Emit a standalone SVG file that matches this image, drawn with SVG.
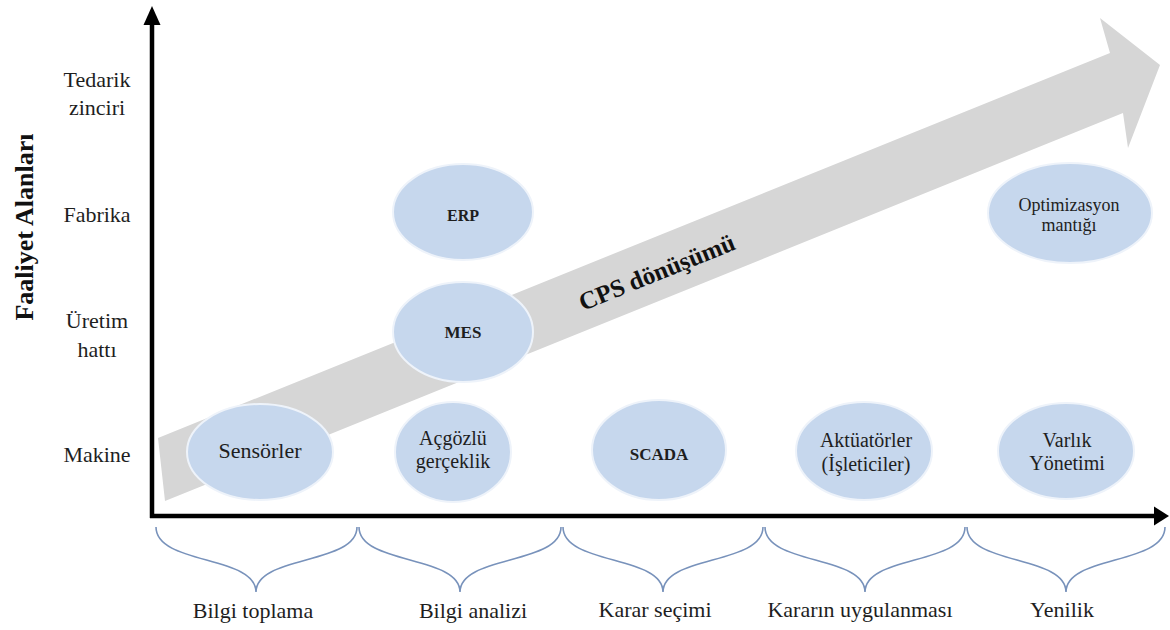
<svg xmlns="http://www.w3.org/2000/svg" width="1170" height="630" viewBox="0 0 1170 630">
  <defs>
    <style>
      .lbl { font-size: 22px; fill: #1e1e1e; text-anchor: middle; }
      .nd { font-size: 20px; fill: #1e1e1e; text-anchor: middle; }
      .nb { font-size: 17px; font-weight: bold; fill: #1e1e1e; text-anchor: middle; }
      .bubble { fill: #c6d7ed; stroke: #eef3fa; stroke-width: 2; }
      .brace { fill: none; stroke: #7892bb; stroke-width: 1.6; }
      .axis { stroke: #000; stroke-width: 4.5; fill: none; }
    </style>
  </defs>

  <rect width="1170" height="630" fill="#ffffff"/>

  <!-- transformation band -->
  <g id="cps-arrow">
    <polygon points="158,438 1110,53 1100,18 1160,65 1128,148 1123,113 165,501" fill="#d6d6d6"/>
    <text x="660" y="280" transform="rotate(-22 660 280)" font-family="Liberation Serif, Times New Roman, serif" font-size="25" font-weight="bold" fill="#111" text-anchor="middle">CPS dönüşümü</text>
  </g>

  <!-- axes -->
  <g id="axes">
    <line class="axis" x1="152" y1="22" x2="152" y2="518"/>
    <polygon points="152,6 143.5,25 160.5,25" fill="#000"/>
    <line class="axis" x1="150" y1="516" x2="1156" y2="516"/>
    <polygon points="1169,516 1154,506.5 1154,525.5" fill="#000"/>
  </g>

  <!-- vertical axis title and levels -->
  <g id="y-labels">
    <text x="33" y="227" transform="rotate(-90 33 227)" font-family="Liberation Serif, Times New Roman, serif" font-size="26" font-weight="bold" fill="#111" text-anchor="middle">Faaliyet Alanları</text>
    <text class="lbl" font-family="Liberation Serif, Times New Roman, serif" x="97" y="87">Tedarik</text>
    <text class="lbl" font-family="Liberation Serif, Times New Roman, serif" x="97" y="115">zinciri</text>
    <text class="lbl" font-family="Liberation Serif, Times New Roman, serif" x="97" y="222">Fabrika</text>
    <text class="lbl" font-family="Liberation Serif, Times New Roman, serif" x="97" y="328">Üretim</text>
    <text class="lbl" font-family="Liberation Serif, Times New Roman, serif" x="97" y="357">hattı</text>
    <text class="lbl" font-family="Liberation Serif, Times New Roman, serif" x="97" y="462">Makine</text>
  </g>

  <!-- nodes -->
  <g id="node-erp">
    <ellipse class="bubble" cx="463" cy="212" rx="70" ry="48"/>
    <text class="nb" font-family="Liberation Serif, Times New Roman, serif" x="463" y="221" style="font-size:16px">ERP</text>
  </g>
  <g id="node-mes">
    <ellipse class="bubble" cx="463" cy="332" rx="70" ry="50"/>
    <text class="nb" font-family="Liberation Serif, Times New Roman, serif" x="463" y="338">MES</text>
  </g>
  <g id="node-optimizasyon">
    <ellipse class="bubble" cx="1070" cy="213" rx="82" ry="50"/>
    <text class="nd" font-family="Liberation Serif, Times New Roman, serif" x="1069" y="211" style="font-size:18px">Optimizasyon</text>
    <text class="nd" font-family="Liberation Serif, Times New Roman, serif" x="1069" y="231" style="font-size:18px">mantığı</text>
  </g>
  <g id="node-sensorler">
    <ellipse class="bubble" cx="260" cy="452" rx="73" ry="48"/>
    <text class="nd" font-family="Liberation Serif, Times New Roman, serif" x="260" y="458" style="font-size:22px">Sensörler</text>
  </g>
  <g id="node-acgozlu">
    <ellipse class="bubble" cx="453" cy="452" rx="58" ry="50"/>
    <text class="nd" font-family="Liberation Serif, Times New Roman, serif" x="453" y="445">Açgözlü</text>
    <text class="nd" font-family="Liberation Serif, Times New Roman, serif" x="453" y="468">gerçeklik</text>
  </g>
  <g id="node-scada">
    <ellipse class="bubble" cx="659" cy="450" rx="67" ry="50"/>
    <text class="nb" font-family="Liberation Serif, Times New Roman, serif" x="659" y="460">SCADA</text>
  </g>
  <g id="node-aktuatorler">
    <ellipse class="bubble" cx="864" cy="451" rx="68" ry="49"/>
    <text class="nd" font-family="Liberation Serif, Times New Roman, serif" x="866" y="447">Aktüatörler</text>
    <text class="nd" font-family="Liberation Serif, Times New Roman, serif" x="866" y="471">(İşleticiler)</text>
  </g>
  <g id="node-varlik">
    <ellipse class="bubble" cx="1066" cy="451" rx="68" ry="48"/>
    <text class="nd" font-family="Liberation Serif, Times New Roman, serif" x="1067" y="447">Varlık</text>
    <text class="nd" font-family="Liberation Serif, Times New Roman, serif" x="1067" y="470">Yönetimi</text>
  </g>

  <!-- stage braces under the horizontal axis -->
  <g id="braces">
    <path class="brace" d="M156,527 C156,565 256,555 256,592 C256,555 357,565 357,527"/>
    <path class="brace" d="M359,527 C359,565 460,555 460,592 C460,555 561,565 561,527"/>
    <path class="brace" d="M563,527 C563,565 663,555 663,592 C663,555 763,565 763,527"/>
    <path class="brace" d="M765,527 C765,565 865,555 865,592 C865,555 965,565 965,527"/>
    <path class="brace" d="M967,527 C967,565 1066,555 1066,592 C1066,555 1165,565 1165,527"/>
  </g>

  <!-- stage names -->
  <g id="x-labels">
    <text class="lbl" font-family="Liberation Serif, Times New Roman, serif" x="253" y="618">Bilgi toplama</text>
    <text class="lbl" font-family="Liberation Serif, Times New Roman, serif" x="473" y="618">Bilgi analizi</text>
    <text class="lbl" font-family="Liberation Serif, Times New Roman, serif" x="655" y="617">Karar seçimi</text>
    <text class="lbl" font-family="Liberation Serif, Times New Roman, serif" x="860" y="617">Kararın uygulanması</text>
    <text class="lbl" font-family="Liberation Serif, Times New Roman, serif" x="1062" y="617">Yenilik</text>
  </g>
</svg>
